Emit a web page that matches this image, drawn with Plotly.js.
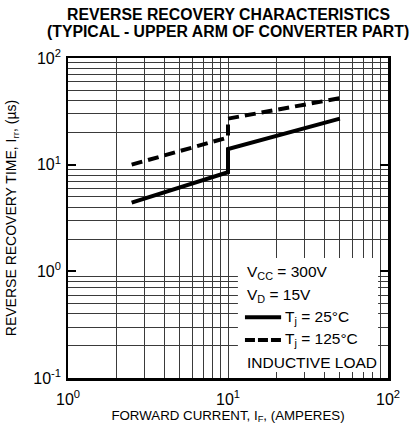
<!DOCTYPE html>
<html>
<head>
<meta charset="utf-8">
<script src="https://cdn.plot.ly/plotly-3.0.1.min.js"></script>
<style>html,body{margin:0;padding:0;background:#fff;}#chart{width:415px;height:428px;}</style>
</head>
<body>
<div id="chart"></div>
<script>
// ---- data ----
const current25 = [2.5, 10, 10, 50];
const trr25 = [4.4, 8.5, 14, 27];
const current125 = [2.5, 10, 10, 50];
const trr125 = [10, 18, 27, 42];

// ---- axis ticks ----
const xGridVals = [2,3,4,5,6,7,8,9,10,20,30,40,50,60,70,80,90];
const xLabelVals = [1, 10, 100];
const xLabelText = ['10<sup>0</sup>', '10<sup>1</sup>', '10<sup>2</sup>'];
const yGridVals = [0.2,0.3,0.4,0.5,0.6,0.7,0.8,0.9,2,3,4,5,6,7,8,9,20,30,40,50,60,70,80,90];
const yLabelVals = [0.1, 1, 10, 100];
const yLabelText = ['10<sup>-1</sup>', '10<sup>0</sup>', '10<sup>1</sup>', '10<sup>2</sup>'];

// ---- text ----
const titleLines = ['REVERSE RECOVERY CHARACTERISTICS', '(TYPICAL - UPPER ARM OF CONVERTER PART)'];
const legendLines = ['V<sub>CC</sub> = 300V', 'V<sub>D</sub> = 15V'];
const series25Name = 'T<sub>j</sub> = 25°C';
const series125Name = 'T<sub>j</sub> = 125°C';
const loadText = 'INDUCTIVE LOAD';

const FONT = 'Liberation Sans, Arial, Helvetica, sans-serif';
const GRID = '#3a3a3a';

const traces = [
  {x: current25, y: trr25, type: 'scatter', mode: 'lines', name: series25Name,
   line: {color: '#000', width: 4}, showlegend: false, hoverinfo: 'skip'},
  {x: current125, y: trr125, type: 'scatter', mode: 'lines', name: series125Name,
   line: {color: '#000', width: 4, dash: '11px,6px'}, showlegend: false, hoverinfo: 'skip'},
  // empty trace so the label axis (y2) gets its own overlay subplot
  {x: [], y: [], type: 'scatter', mode: 'lines', yaxis: 'y2', showlegend: false, hoverinfo: 'skip'}
];

const boxX0 = 0.531, boxX1 = 0.969, boxY0 = 0.019, boxY1 = 0.375;
const txtX = 0.553, sampleX1 = 0.666, seriesTxtX = 0.672;
const rowY = [0.329, 0.257, 0.190, 0.119, 0.049];

const annFont = {family: FONT, size: 15.5, color: '#000'};
const annotations = [
  {text: legendLines[0], x: txtX, y: rowY[0]},
  {text: legendLines[1], x: txtX, y: rowY[1]},
  {text: series25Name, x: seriesTxtX, y: rowY[2]},
  {text: series125Name, x: seriesTxtX, y: rowY[3]},
  {text: loadText, x: txtX, y: rowY[4]}
].map(a => Object.assign({xref: 'x domain', yref: 'y domain', xanchor: 'left', yanchor: 'middle',
  showarrow: false, font: annFont}, a));

const titleFont = {family: FONT, size: 15.8, color: '#000', weight: 'bold'};
annotations.push(
  {text: '<b>' + titleLines[0] + '</b>', xref: 'paper', yref: 'paper', x: 0.5, y: 1.1375,
   xanchor: 'center', yanchor: 'middle', showarrow: false, font: titleFont},
  {text: '<b>' + titleLines[1] + '</b>', xref: 'paper', yref: 'paper', x: 0.5, y: 1.083,
   xanchor: 'center', yanchor: 'middle', showarrow: false, font: titleFont}
);

const shapes = [
  {type: 'rect', xref: 'x domain', yref: 'y domain', x0: boxX0, x1: boxX1, y0: boxY0, y1: boxY1,
   fillcolor: '#fff', line: {width: 0}, layer: 'above'},
  {type: 'line', xref: 'x domain', yref: 'y domain', x0: txtX, x1: sampleX1, y0: rowY[2], y1: rowY[2],
   line: {color: '#000', width: 4}, layer: 'above'},
  {type: 'line', xref: 'x domain', yref: 'y domain', x0: txtX, x1: sampleX1, y0: rowY[3], y1: rowY[3],
   line: {color: '#000', width: 4, dash: '10px,3px'}, layer: 'above'}
];

const layout = {
  width: 415, height: 428,
  margin: {l: 68, r: 27, t: 58, b: 50},
  paper_bgcolor: '#fff', plot_bgcolor: '#fff',
  font: {family: FONT, color: '#000'},
  showlegend: false,
  xaxis: {
    type: 'log', range: [0, 2],
    tickmode: 'array',
    tickvals: xLabelVals.concat(xGridVals),
    ticktext: xLabelText.concat(xGridVals.map(() => '')),
    ticks: '', showgrid: true, gridcolor: GRID, gridwidth: 1,
    tickfont: {size: 16, family: FONT}, ticklabelstandoff: 5,
    showline: true, linecolor: '#000', linewidth: 2.5, mirror: true, zeroline: false,
    title: {text: 'FORWARD CURRENT, I<sub>F</sub>, (AMPERES)', font: {size: 13.3, family: FONT}, standoff: 3}
  },
  yaxis: {
    type: 'log', range: [-1, 2],
    tickmode: 'array', tickvals: yGridVals, showticklabels: false,
    ticks: '', showgrid: true, gridcolor: GRID, gridwidth: 1,
    showline: true, linecolor: '#000', linewidth: 2.5, mirror: true, zeroline: false
  },
  yaxis2: {
    type: 'log', range: [-1, 2], overlaying: 'y', side: 'left', anchor: 'x',
    tickmode: 'array', tickvals: yLabelVals, ticktext: yLabelText,
    ticks: 'inside', ticklen: 8, tickwidth: 2, tickcolor: '#000', mirror: 'ticks',
    showgrid: false, showline: false, zeroline: false,
    tickfont: {size: 16, family: FONT}, ticklabelstandoff: 6,
    title: {text: 'REVERSE RECOVERY TIME, I<sub>rr</sub>, (µs)', font: {size: 14, family: FONT}, standoff: 13}
  },
  shapes: shapes,
  annotations: annotations
};

Plotly.newPlot('chart', traces, layout, {staticPlot: true, displayModeBar: false});
</script>
</body>
</html>
